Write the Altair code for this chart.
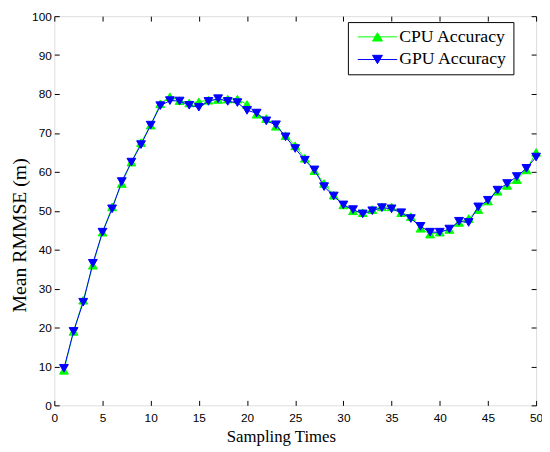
import altair as alt
import pandas as pd

sampling = [1, 2, 3, 4, 5, 6, 7, 8, 9, 10, 11, 12, 13, 14, 15, 16, 17, 18, 19, 20,
            21, 22, 23, 24, 25, 26, 27, 28, 29, 30, 31, 32, 33, 34, 35, 36, 37, 38, 39, 40,
            41, 42, 43, 44, 45, 46, 47, 48, 49, 50]
cpu = [9.0, 19.0, 27.0, 36.0, 44.5, 51.0, 57.0, 62.5, 67.5, 72.0,
       77.5, 79.3, 78.3, 77.7, 78.0, 78.4, 78.6, 78.7, 78.7, 77.3,
       74.8, 73.7, 71.7, 69.3, 66.7, 63.5, 60.3, 57.0, 54.0, 51.5,
       50.0, 49.5, 50.3, 51.0, 51.0, 49.5, 48.5, 45.5, 44.0, 44.5,
       45.2, 47.0, 48.0, 50.3, 52.5, 55.0, 56.5, 58.0, 60.5, 65.0]
gpu = [9.5, 19.0, 26.5, 36.5, 44.5, 50.5, 57.5, 62.5, 67.0, 72.0,
       77.0, 78.3, 78.2, 77.1, 76.6, 78.1, 78.8, 78.1, 77.8, 75.8,
       75.1, 73.1, 72.1, 69.0, 66.0, 63.0, 60.5, 56.2, 53.8, 51.5,
       50.3, 49.2, 50.0, 50.8, 50.5, 49.5, 48.0, 46.0, 44.5, 44.5,
       45.3, 47.3, 47.0, 51.0, 52.7, 55.3, 57.0, 58.8, 60.9, 63.8]
series_names = ["CPU Accuracy", "GPU Accuracy"]
series_colors = ["#00ff00", "#0000ff"]
x_ticks = [0, 5, 10, 15, 20, 25, 30, 35, 40, 45, 50]
y_ticks = [0, 10, 20, 30, 40, 50, 60, 70, 80, 90, 100]

W, H = 489, 395

df = pd.DataFrame({
    "x": sampling * 2,
    "v": cpu + gpu,
    "series": [series_names[0]] * len(cpu) + [series_names[1]] * len(gpu),
})

xscale = alt.Scale(domain=[0, 50], nice=False, zero=False)
yscale = alt.Scale(domain=[0, 100], nice=False, zero=False)

common = dict(ticks=True, tickSize=5, tickColor="black", tickWidth=1, offset=-5,
              domain=False, grid=False, labelFlush=False, labelOverlap=False)
xaxis = alt.Axis(values=x_ticks, orient="bottom",
                 labelFont="Liberation Sans", labelFontSize=12, labelColor="black",
                 labelPadding=7, title="Sampling Times",
                 titleFont="Liberation Serif", titleFontSize=17, titleFontWeight="normal",
                 titleColor="black", titleX=230, titleY=29, **common)
yaxis = alt.Axis(values=y_ticks, orient="left",
                 labelFont="Liberation Sans", labelFontSize=12, labelColor="black",
                 labelPadding=3, title="Mean RMMSE (m)",
                 titleFont="Liberation Serif", titleFontSize=20, titleFontWeight="normal",
                 titleColor="black", titleX=-40, titleY=222, titleBaseline="middle",
                 titleAngle=-90, **common)
xaxis_top = alt.Axis(values=x_ticks, orient="top", labels=False, title=None, **common)
yaxis_right = alt.Axis(values=y_ticks, orient="right", labels=False, title=None, **common)

base = alt.Chart(df)

axes = [(xaxis, yaxis), (xaxis_top, yaxis_right), (None, None), (None, None)]
layers = []
i = 0
for name, col, shp in zip(series_names, series_colors, ["triangle-up", "triangle-down"]):
    sub = base.transform_filter(alt.datum.series == name)
    ax, ay = axes[i]
    i += 1
    layers.append(sub.mark_line(color=col, strokeWidth=1).encode(
        x=alt.X("x:Q", scale=xscale, axis=ax),
        y=alt.Y("v:Q", scale=yscale, axis=ay)))
    ax, ay = axes[i]
    i += 1
    layers.append(sub.mark_point(shape=shp, filled=True, fill=col, stroke=col,
                                 strokeWidth=1, size=80, opacity=1).encode(
        x=alt.X("x:Q", scale=xscale, axis=ax),
        y=alt.Y("v:Q", scale=yscale, axis=ay)))

up_path = "M-4,0H4M0,-0.85L1,0.85L-1,0.85Z"
down_path = "M-4,0H4M0,0.85L1,-0.85L-1,-0.85Z"
legend = alt.Legend(title=None, orient="none", legendX=298, legendY=6,
                    labelFont="Liberation Serif", labelFontSize=18, labelColor="black",
                    symbolSize=100, symbolStrokeWidth=1, symbolOffset=15, labelOffset=13,
                    symbolOpacity=1, padding=6, rowPadding=5, strokeColor="black",
                    fillColor="white", cornerRadius=0)
legend_layer = base.transform_filter("datum.x < 0").mark_point(filled=True, opacity=1).encode(
    x=alt.X("x:Q", scale=xscale, axis=None),
    y=alt.Y("v:Q", scale=yscale, axis=None),
    fill=alt.Fill("series:N", scale=alt.Scale(domain=series_names, range=series_colors), legend=legend),
    stroke=alt.Stroke("series:N", scale=alt.Scale(domain=series_names, range=series_colors), legend=legend),
    shape=alt.Shape("series:N", scale=alt.Scale(domain=series_names, range=[up_path, down_path]), legend=legend),
)

chart = alt.layer(*layers, legend_layer).resolve_axis(
    x="independent", y="independent"
).properties(
    width=W, height=H,
    autosize=alt.AutoSizeParams(type="none"),
    padding={"left": 47, "top": 5, "right": 6, "bottom": 40},
).configure_view(stroke="black", strokeWidth=1).configure(background="white")

chart.save("out.html", embed_options={"renderer": "svg", "actions": False})
